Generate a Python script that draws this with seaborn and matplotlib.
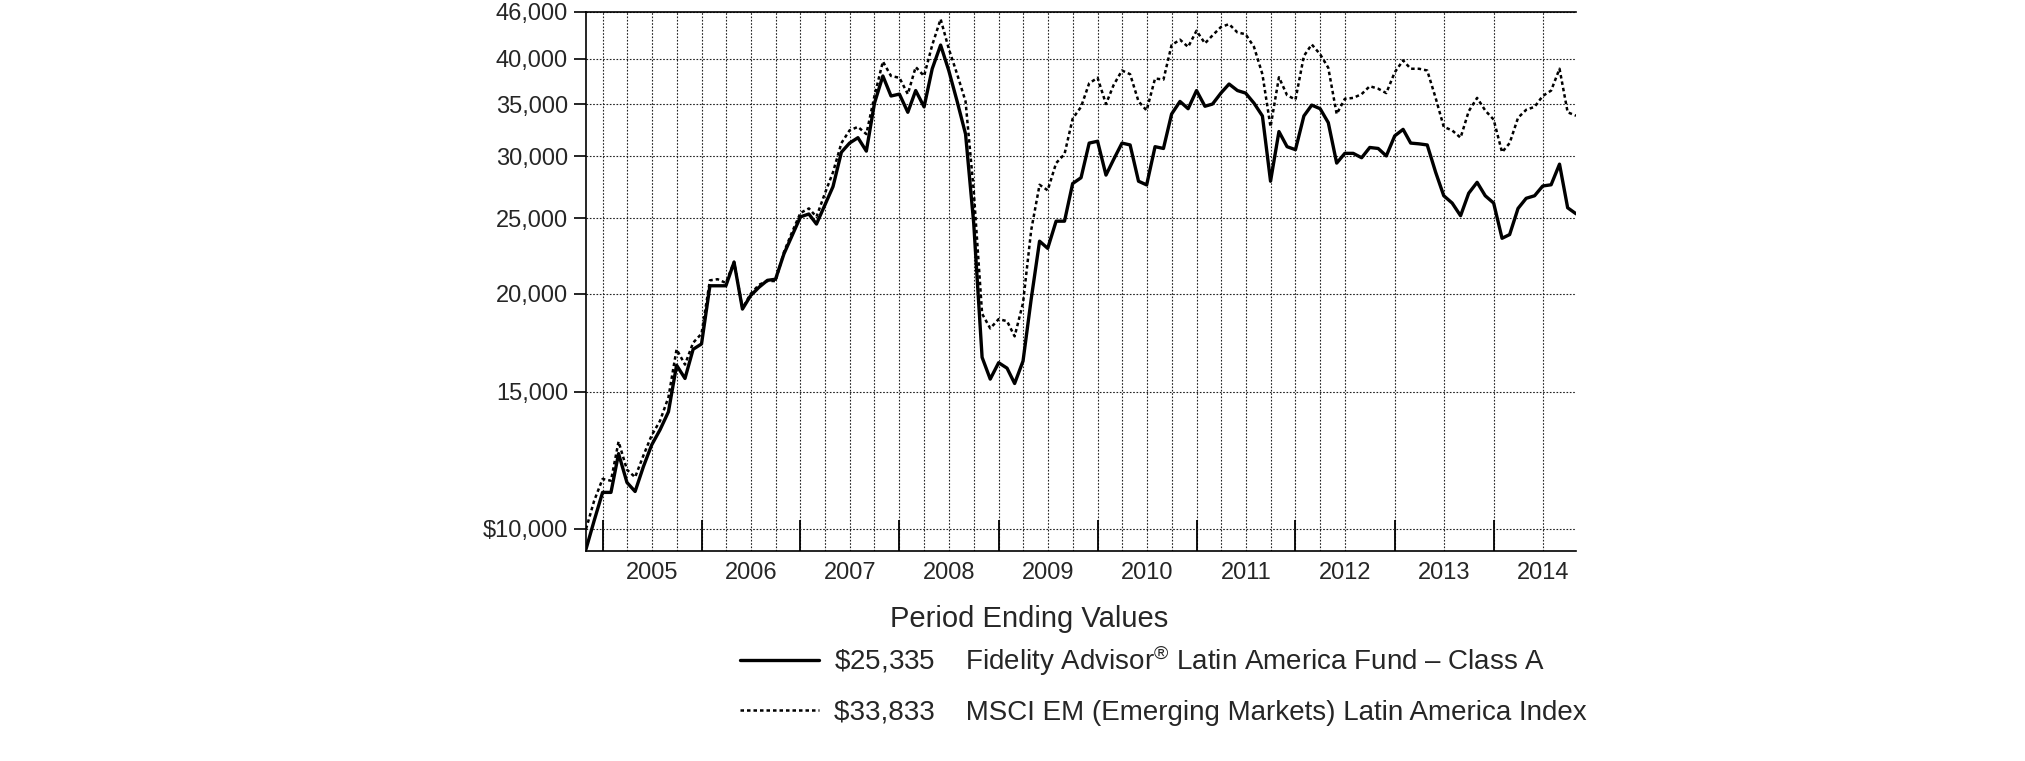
import pandas as pd
import numpy as np
import seaborn as sns
import matplotlib.pyplot as plt
import matplotlib.dates as mdates
import matplotlib.ticker as mticker
import matplotlib.transforms as mtransforms

# Monthly period-ending values, Oct 2004 - Oct 2014
fund_values = [
    9425, 10250, 11140, 11140, 12490, 11470, 11170, 12030, 12810, 13400,
    14130, 16210, 15590, 16990, 17260, 20490, 20490, 20490, 21960, 19130,
    19900, 20400, 20820, 20890, 22510, 23750, 25110, 25320, 24580, 26000,
    27450, 30380, 31210, 31710, 30480, 35110, 38040, 35860, 36060, 34180,
    36440, 34730, 38860, 41670, 38660, 35290, 32050, 24660, 16590, 15560,
    16330, 16070, 15360, 16410, 19690, 23370, 22880, 24790, 24790, 27700,
    28180, 31210, 31380, 28400, 29730, 31210, 31040, 27890, 27590, 30880,
    30720, 34000, 35290, 34540, 36440, 34790, 35020, 36170, 37150, 36440,
    36170, 35110, 33810, 27890, 32290, 30880, 30610, 33810, 34910, 34540,
    33150, 29420, 30280, 30280, 29890, 30810, 30720, 30050, 31880, 32500,
    31210, 31140, 31040, 28640, 26720, 26150, 25190, 26920, 27800, 26720,
    26150, 23570, 23830, 25740, 26520, 26720, 27500, 27600, 29330, 25790,
    25335]
index_values = [
    10000, 10870, 11590, 11530, 12940, 11910, 11650, 12430, 13180, 13760,
    14750, 16990, 16240, 17320, 17790, 20820, 20890, 20660, 22000, 19170,
    20000, 20550, 20780, 20780, 22630, 24000, 25400, 25740, 25110, 26900,
    28640, 31210, 32400, 32740, 32050, 35860, 39700, 38040, 37840, 36060,
    39060, 38040, 41670, 44990, 41230, 38240, 35290, 27150, 18870, 18070,
    18570, 18460, 17650, 19480, 24130, 27600, 27150, 29420, 30210, 33540,
    34730, 37230, 37840, 35020, 37030, 38660, 38240, 35290, 34360, 37760,
    37640, 41670, 42340, 41440, 43470, 41880, 42880, 43950, 44330, 43250,
    43030, 41440, 38240, 32740, 37900, 35940, 35480, 40350, 41750, 40560,
    38970, 34000, 35560, 35660, 36060, 36910, 36640, 36170, 38450, 39830,
    38860, 38860, 38660, 35660, 32740, 32400, 31710, 34280, 35660, 34360,
    33450, 30380, 31210, 33630, 34430, 34730, 35860, 36440, 38860, 34180,
    33833]

fund_label = "\\$25,335    Fidelity Advisor$^{\u00ae}$ Latin America Fund \u2013 Class A"
index_label = "$33,833    MSCI EM (Emerging Markets) Latin America Index"

y_ticks = [10000, 15000, 20000, 25000, 30000, 35000, 40000, 46000]
y_tick_labels = ["$10,000", "15,000", "20,000", "25,000", "30,000", "35,000", "40,000", "46,000"]
years = list(range(2005, 2015))

dates = pd.period_range("2004-10", "2014-10", freq="M").to_timestamp() + pd.offsets.MonthEnd(0)
df = pd.DataFrame({"date": dates, "fund": fund_values, "index": index_values})

sns.set_style("white")
plt.rcParams["font.family"] = ["Liberation Sans", "DejaVu Sans"]
plt.rcParams["mathtext.fontset"] = "custom"
plt.rcParams["mathtext.rm"] = "Liberation Sans"
plt.rcParams["mathtext.it"] = "Liberation Sans"
plt.rcParams["mathtext.bf"] = "Liberation Sans:bold"

fig = plt.figure(figsize=(20.25, 7.61), dpi=100)
ax = fig.add_axes([0.2894, 0.2753, 0.4889, 0.7095])

sns.lineplot(data=df, x="date", y="index", ax=ax, color="black", linewidth=1.8,
             linestyle=(0, (1.4, 1.2)), label=index_label)
sns.lineplot(data=df, x="date", y="fund", ax=ax, color="black", linewidth=2.4,
             label=fund_label)

ax.set_yscale("log")
ax.set_ylim(9358, 46000)
ax.set_xlim(dates[0], dates[-1])
ax.yaxis.set_major_locator(mticker.FixedLocator(y_ticks))
ax.yaxis.set_major_formatter(mticker.FixedFormatter(y_tick_labels))
ax.yaxis.set_minor_locator(mticker.NullLocator())
ax.tick_params(axis="y", which="major", direction="out", length=9, width=1.2,
               labelsize=17, pad=4, color="black", left=True)

# year boundaries: tall inward ticks; grid every quarter, then half-yearly from mid 2012
ax.xaxis.set_major_locator(mdates.YearLocator(month=12, day=31))
ax.xaxis.set_major_formatter(mticker.NullFormatter())
grid_dates = [d for d in dates if d.month in (3, 6, 9, 12) and (d <= pd.Timestamp("2012-06-30") or d.month in (6, 12))]
ax.xaxis.set_minor_locator(mticker.FixedLocator(mdates.date2num(grid_dates)))
ax.tick_params(axis="x", which="major", direction="in", length=22, width=1.3, color="black", bottom=True)
ax.tick_params(axis="x", which="minor", length=0)

ax.grid(True, axis="x", which="both", color="#222222", linestyle=(0, (1.5, 1.5)), linewidth=0.8)
ax.grid(True, axis="y", which="major", color="#222222", linestyle=(0, (1.5, 1.5)), linewidth=0.8)

trans = mtransforms.blended_transform_factory(ax.transData, ax.transAxes)
for yr in years:
    ax.text(mdates.date2num(pd.Timestamp(f"{yr}-07-01")), -0.02, str(yr), transform=trans,
            ha="center", va="top", fontsize=17)

for side in ["left", "bottom", "top"]:
    ax.spines[side].set_visible(True)
    ax.spines[side].set_color("black")
    ax.spines[side].set_linewidth(1.2)
ax.spines["right"].set_visible(False)
ax.set_xlabel("")
ax.set_ylabel("")

handles, labels = ax.get_legend_handles_labels()
ax.legend(handles[::-1], labels[::-1], loc="upper left", bbox_to_anchor=(0.3654, 0.1545),
          bbox_transform=fig.transFigure, frameon=False, fontsize=20, handlelength=2.85,
          handletextpad=0.55, labelspacing=0.78, borderpad=0, borderaxespad=0)
fig.text(0.508, 0.187, "Period Ending Values", ha="center", va="center", fontsize=21)

fig.savefig("out.png", dpi=100)
